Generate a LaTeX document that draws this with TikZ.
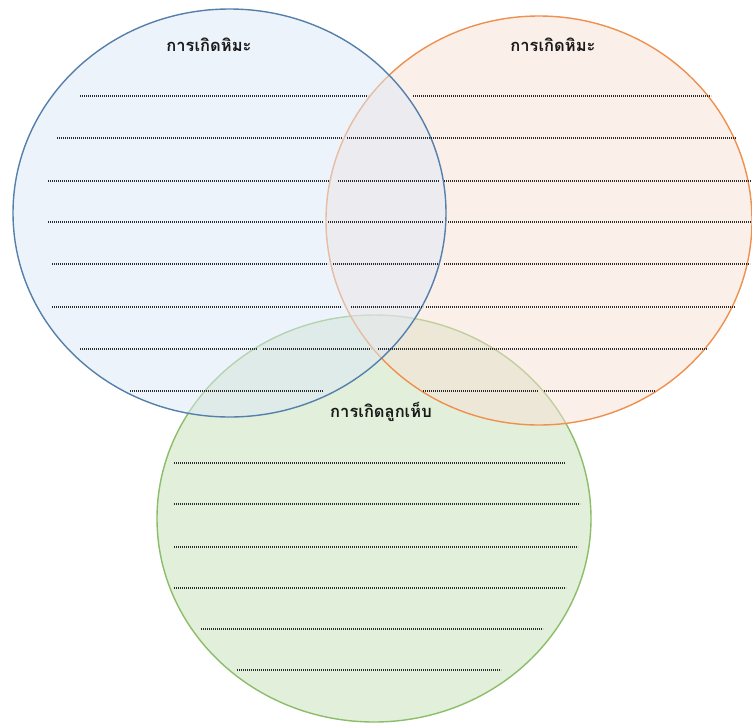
\documentclass[tikz,border=0pt]{standalone}
\usepackage{fontspec}
\usetikzlibrary{shapes.geometric}
\newfontfamily\thaifont[Script=Thai]{Loma}
\definecolor{bluefill}{HTML}{DDE9F7}
\definecolor{bluedraw}{HTML}{5580AC}
\definecolor{orangefill}{HTML}{F7E1D5}
\definecolor{orangedraw}{HTML}{F0904E}
\definecolor{greenfill}{HTML}{E2EFDA}
\definecolor{greendraw}{HTML}{8CBD69}
\definecolor{dotcol}{HTML}{2A2A2A}
\begin{document}
\begin{tikzpicture}[x=1pt,y=-1pt,
  setshape/.style={ellipse, line width=1.4pt, inner sep=0pt},
  title/.style={font=\thaifont\bfseries\fontsize{16.5}{19}\selectfont, text=black!90, inner sep=0pt},
  writeline/.style={line width=1.2pt, dotcol, dash pattern=on 1.1pt off 0.9pt}]
\useasboundingbox (0,0) rectangle (752,723);
\fill[white] (0,0) rectangle (752,723);
% sets (bottom to top: green, orange, blue)
\node[setshape, draw=greendraw, fill=greenfill, minimum width=434pt, minimum height=407pt] (green) at (374,518.5) {};
\node[setshape, draw=orangedraw, fill=orangefill, fill opacity=0.5, minimum width=426pt, minimum height=409pt] (orange) at (539,220.5) {};
\node[setshape, draw=bluedraw, fill=bluefill, fill opacity=0.5, minimum width=433pt, minimum height=408pt] (blue) at (229.5,213) {};
% titles
\node[title] (tblue) at (209,45) {การเกิดหิมะ};
\node[title] (torange) at (553,45) {การเกิดหิมะ};
\node[title] (tgreen) at (381,412) {การเกิดลูกเห็บ};
% writing lines, upper sets
\draw[writeline] (80,96) -- (368,96);
\draw[writeline] (413,96) -- (711,96);
\draw[writeline] (57,138) -- (342,138);
\draw[writeline] (347,138) -- (736,138);
\draw[writeline] (48,181) -- (329,181);
\draw[writeline] (338,181) -- (439,181);
\draw[writeline] (444,181) -- (752,181);
\draw[writeline] (48,222) -- (323,222);
\draw[writeline] (328,222) -- (443,222);
\draw[writeline] (448,222) -- (752,222);
\draw[writeline] (52,264) -- (328,264);
\draw[writeline] (333,264) -- (439,264);
\draw[writeline] (444,264) -- (750,264);
\draw[writeline] (52,307) -- (341,307);
\draw[writeline] (351,307) -- (423,307);
\draw[writeline] (426,307) -- (735,307);
\draw[writeline] (80,349) -- (257,349);
\draw[writeline] (263,349) -- (371,349);
\draw[writeline] (378,349) -- (708,349);
\draw[writeline] (130,391) -- (323,391);
\draw[writeline] (423,391) -- (538,391);
\draw[writeline] (544,391) -- (655,391);
% writing lines, lower set
\draw[writeline] (174,463) -- (565,463);
\draw[writeline] (174,504) -- (580,504);
\draw[writeline] (174,547) -- (578,547);
\draw[writeline] (174,588) -- (566,588);
\draw[writeline] (201,629) -- (543,629);
\draw[writeline] (237,670) -- (501,670);
\end{tikzpicture}
\end{document}
